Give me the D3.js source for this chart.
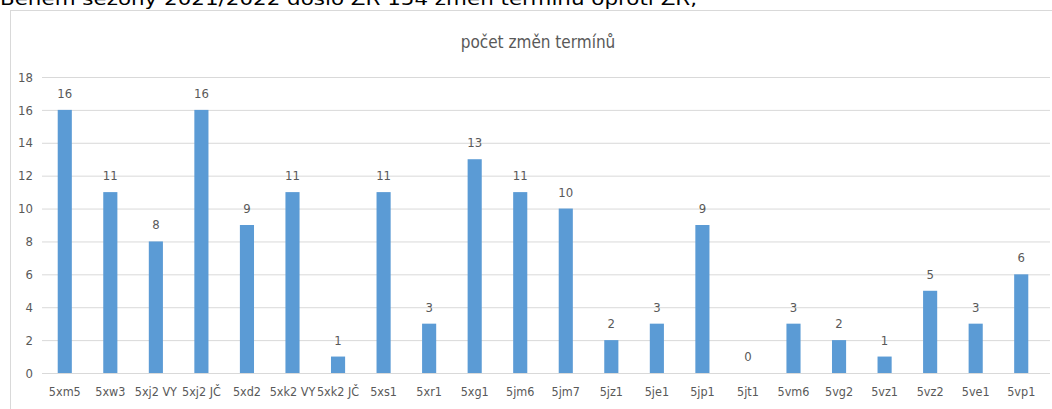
<!DOCTYPE html>
<html>
<head>
<meta charset="utf-8">
<script src="https://cdn.jsdelivr.net/npm/d3@7"></script>
<style>
  body { margin: 0; background: #fff; overflow: hidden; }
  svg { display: block; }
</style>
</head>
<body>
<div class="chart"></div>
<script>
const categories = ["5xm5", "5xw3", "5xj2 VY", "5xj2 JČ", "5xd2", "5xk2 VY", "5xk2 JČ", "5xs1", "5xr1", "5xg1", "5jm6", "5jm7", "5jz1", "5je1", "5jp1", "5jt1", "5vm6", "5vg2", "5vz1", "5vz2", "5ve1", "5vp1"]
const values = [16, 11, 8, 16, 9, 11, 1, 11, 3, 13, 11, 10, 2, 3, 9, 0, 3, 2, 1, 5, 3, 6]
const yTicks = [0, 2, 4, 6, 8, 10, 12, 14, 16, 18]
const chartTitle = "počet změn termínů"
const introText = "Během sezóny 2021/2022 došlo ZR 154 změn termínu oproti ZR,"

const width = 1052
const height = 409
const plotLeft = 42
const plotRight = 1044
const plotTop = 77
const plotBottom = 373
const barColor = "#5b9bd5"
const textColor = "#595959"
const font = "'DejaVu Sans Condensed', 'Liberation Sans Narrow', sans-serif"

const xScale = d3.scaleBand()
    .domain(categories)
    .range([plotLeft, plotRight])
    .paddingInner(0.69)
    .paddingOuter(0.345)

const yScale = d3.scaleLinear()
    .domain([0, 18])
    .range([plotBottom, plotTop])

let svg = d3.select(".chart")
    .append("svg")
    .attr("width", width)
    .attr("height", height)

// text of the document above the chart, cut off by the crop
svg.append("text")
    .attr("x", 0)
    .attr("y", 5)
    .attr("font-family", "'DejaVu Sans', sans-serif")
    .attr("font-size", 17)
    .attr("fill", "#000")
    .attr("textLength", 697)
    .attr("lengthAdjust", "spacingAndGlyphs")
    .text(introText)

// chart frame
svg.append("rect")
    .attr("x", 10.5)
    .attr("y", 10.5)
    .attr("width", 1100)
    .attr("height", 500)
    .attr("fill", "#fff")
    .attr("stroke", "#d9d9d9")

svg.append("text")
    .attr("x", 538)
    .attr("y", 48)
    .attr("text-anchor", "middle")
    .attr("font-family", font)
    .attr("font-size", 17)
    .attr("fill", textColor)
    .text(chartTitle)

const yAxis = d3.axisLeft(yScale)
    .tickValues(yTicks)
    .tickSize(-(1050 - plotLeft))
    .tickPadding(9)

svg.append("g")
    .attr("transform", `translate(${plotLeft},0)`)
    .call(yAxis)
    .call(g => g.select(".domain").remove())
    .call(g => g.selectAll(".tick line").attr("stroke", "#d9d9d9"))
    .call(g => g.selectAll(".tick text")
        .attr("font-family", font)
        .attr("font-size", 13)
        .attr("fill", textColor))

const xAxis = d3.axisBottom(xScale)
    .tickSize(0)
    .tickPadding(14)

svg.append("g")
    .attr("transform", `translate(0,${plotBottom})`)
    .call(xAxis)
    .call(g => g.select(".domain").remove())
    .call(g => g.selectAll(".tick text")
        .attr("font-family", font)
        .attr("font-size", 12.5)
        .attr("fill", textColor))

svg.append("g")
    .selectAll("rect")
    .data(values)
    .join("rect")
    .attr("x", (d, i) => xScale(categories[i]))
    .attr("y", d => yScale(d))
    .attr("width", xScale.bandwidth())
    .attr("height", d => plotBottom - yScale(d))
    .attr("fill", barColor)

svg.append("g")
    .selectAll("text")
    .data(values)
    .join("text")
    .attr("x", (d, i) => xScale(categories[i]) + xScale.bandwidth() / 2)
    .attr("y", d => yScale(d) - 12)
    .attr("text-anchor", "middle")
    .attr("font-family", font)
    .attr("font-size", 13)
    .attr("fill", textColor)
    .text(d => d)
</script>
</body>
</html>
